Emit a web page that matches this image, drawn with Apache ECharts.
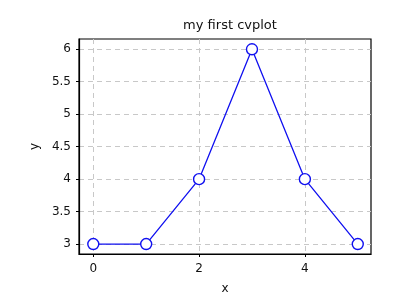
<!DOCTYPE html>
<html><head><meta charset="utf-8">
<script src="https://cdn.jsdelivr.net/npm/echarts@6/dist/echarts.min.js"></script>
<style>html,body{margin:0;padding:0;background:#fff}#c{width:400px;height:300px}</style>
</head><body><div id="c"></div>
<script>
const xValues = [0, 1, 2, 3, 4, 5];
const yValues = [3, 3, 4, 6, 4, 3];
const xTicks = [0, 2, 4];
const yTicks = [3, 3.5, 4, 4.5, 5, 5.5, 6];
const titleText = 'my first cvplot';

const chart = echarts.init(document.getElementById('c'));
const font = 'DejaVu Sans';
chart.setOption({
  animation: false,
  title: { text: titleText, left: 225, textAlign: 'center', top: 14,
    textStyle: { fontFamily: font, fontSize: 13, fontWeight: 'normal', color: '#111' } },
  grid: { left: 79, top: 39, right: 29, bottom: 45, show: true, borderColor: '#000', borderWidth: 1.2, backgroundColor: 'transparent' },
  xAxis: {
    type: 'value', min: -0.27, max: 5.25, name: 'x', nameLocation: 'middle', nameGap: 29,
    nameTextStyle: { fontFamily: font, fontSize: 12, color: '#111' },
    axisLine: { show: true, onZero: false, lineStyle: { color: '#000', width: 1.2 } },
    axisTick: { show: true, length: 3, customValues: xTicks, lineStyle: { color: '#000' } },
    axisLabel: { customValues: xTicks, margin: 9, fontFamily: font, fontSize: 12, color: '#111' },
    splitLine: { show: true, lineStyle: { color: '#c8c8c8', type: [5, 4], width: 1 } }
  },
  yAxis: {
    type: 'value', min: 2.847, max: 6.158, name: 'y', nameLocation: 'middle', nameGap: 38, nameRotate: 90,
    nameTextStyle: { fontFamily: font, fontSize: 12, color: '#111' },
    axisLine: { show: true, onZero: false, lineStyle: { color: '#000', width: 1.2 } },
    axisTick: { show: true, length: 3, customValues: yTicks, lineStyle: { color: '#000' } },
    axisLabel: { customValues: yTicks, margin: 8, fontFamily: font, fontSize: 12, color: '#111' },
    splitLine: { show: true, lineStyle: { color: '#c8c8c8', type: [5, 4], width: 1 } }
  },
  series: [{
    type: 'line', data: xValues.map((x, i) => [x, yValues[i]]),
    symbol: 'circle', symbolSize: 11, showAllSymbol: true,
    lineStyle: { color: '#1010f0', width: 1.3 },
    itemStyle: { color: '#fff', borderColor: '#1010f0', borderWidth: 1.4 }
  }]
});
</script></body></html>
